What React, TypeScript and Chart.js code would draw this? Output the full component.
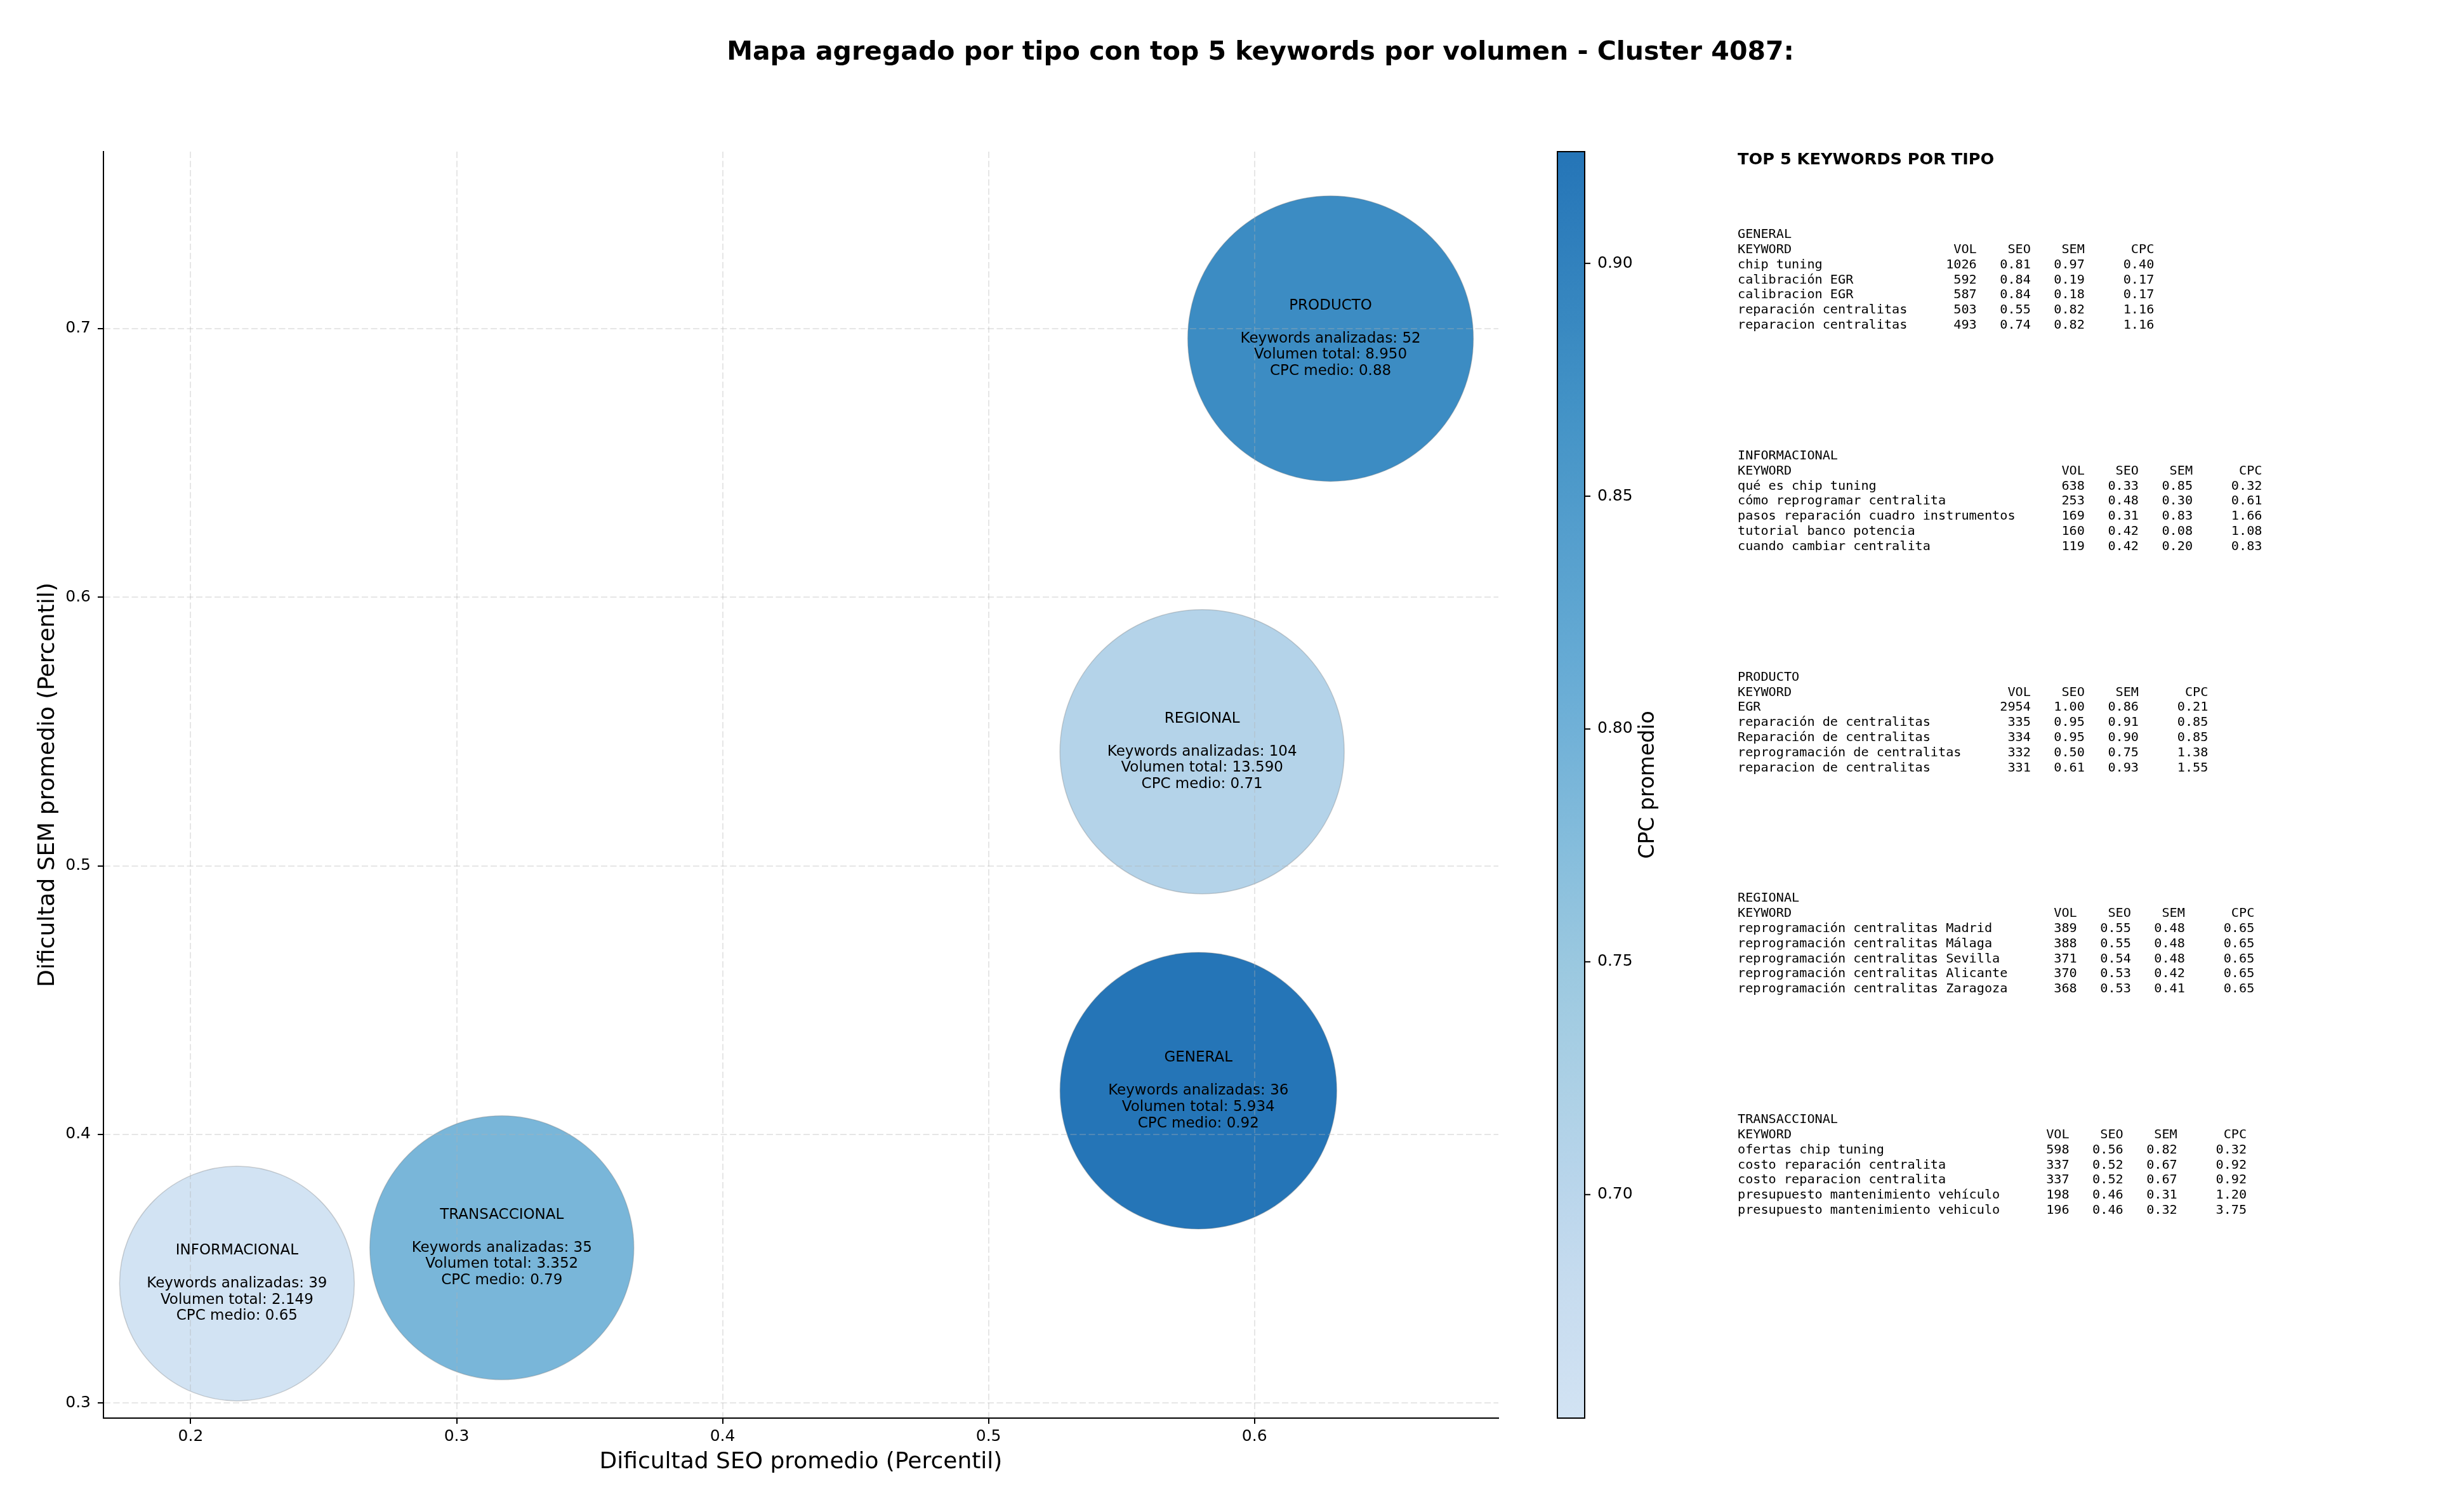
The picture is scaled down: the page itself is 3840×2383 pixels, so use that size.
import React, { useEffect, useRef } from "react";
import { Chart, registerables } from "chart.js";

Chart.register(...registerables);

// ---------------- DATA ----------------
const TYPES = ["GENERAL", "INFORMACIONAL", "PRODUCTO", "REGIONAL", "TRANSACCIONAL"];
const SEO_AVG = [0.5789, 0.2174, 0.6286, 0.5803, 0.317];
const SEM_AVG = [0.4163, 0.3445, 0.6963, 0.5425, 0.3578];
const KW_COUNT = [36, 39, 52, 104, 35];
const VOLUME_TOTAL = [5934, 2149, 8950, 13590, 3352];
const CPC_AVG = [0.924, 0.652, 0.88, 0.71, 0.79];

const X_TICKS = [0.2, 0.3, 0.4, 0.5, 0.6];
const Y_TICKS = [0.3, 0.4, 0.5, 0.6, 0.7];
const CBAR_TICKS = [0.7, 0.75, 0.8, 0.85, 0.9];
const X_RANGE = [0.1672, 0.6917];
const Y_RANGE = [0.2944, 0.7659];

type Row = [string, number, number, number, number];
const TOP_GENERAL: Row[] = [
  ["chip tuning", 1026, 0.81, 0.97, 0.4],
  ["calibración EGR", 592, 0.84, 0.19, 0.17],
  ["calibracion EGR", 587, 0.84, 0.18, 0.17],
  ["reparación centralitas", 503, 0.55, 0.82, 1.16],
  ["reparacion centralitas", 493, 0.74, 0.82, 1.16],
];
const TOP_INFORMACIONAL: Row[] = [
  ["qué es chip tuning", 638, 0.33, 0.85, 0.32],
  ["cómo reprogramar centralita", 253, 0.48, 0.3, 0.61],
  ["pasos reparación cuadro instrumentos", 169, 0.31, 0.83, 1.66],
  ["tutorial banco potencia", 160, 0.42, 0.08, 1.08],
  ["cuando cambiar centralita", 119, 0.42, 0.2, 0.83],
];
const TOP_PRODUCTO: Row[] = [
  ["EGR", 2954, 1.0, 0.86, 0.21],
  ["reparación de centralitas", 335, 0.95, 0.91, 0.85],
  ["Reparación de centralitas", 334, 0.95, 0.9, 0.85],
  ["reprogramación de centralitas", 332, 0.5, 0.75, 1.38],
  ["reparacion de centralitas", 331, 0.61, 0.93, 1.55],
];
const TOP_REGIONAL: Row[] = [
  ["reprogramación centralitas Madrid", 389, 0.55, 0.48, 0.65],
  ["reprogramación centralitas Málaga", 388, 0.55, 0.48, 0.65],
  ["reprogramación centralitas Sevilla", 371, 0.54, 0.48, 0.65],
  ["reprogramación centralitas Alicante", 370, 0.53, 0.42, 0.65],
  ["reprogramación centralitas Zaragoza", 368, 0.53, 0.41, 0.65],
];
const TOP_TRANSACCIONAL: Row[] = [
  ["ofertas chip tuning", 598, 0.56, 0.82, 0.32],
  ["costo reparación centralita", 337, 0.52, 0.67, 0.92],
  ["costo reparacion centralita", 337, 0.52, 0.67, 0.92],
  ["presupuesto mantenimiento vehículo", 198, 0.46, 0.31, 1.2],
  ["presupuesto mantenimiento vehiculo", 196, 0.46, 0.32, 3.75],
];
const TOP_BLOCKS: Row[][] = [TOP_GENERAL, TOP_INFORMACIONAL, TOP_PRODUCTO, TOP_REGIONAL, TOP_TRANSACCIONAL];

const TITLE = "Mapa agregado por tipo con top 5 keywords por volumen - Cluster 4087:";
const X_LABEL = "Dificultad SEO promedio (Percentil)";
const Y_LABEL = "Dificultad SEM promedio (Percentil)";
const CBAR_LABEL = "CPC promedio";
const PANEL_HEADER = "TOP 5 KEYWORDS POR TIPO";

// ---------------- STYLE ----------------
const W = 3840;
const H = 2383;
const AREA = { left: 163, right: 2361, top: 239, bottom: 2235 };
const BUBBLE_RADIUS_PX = [218, 185, 225, 224, 208];
const CBAR_X0 = 2454;
const CBAR_X1 = 2497;
const SANS = "'DejaVu Sans'";
const MONO = "'DejaVu Sans Mono'";

const BLUES = [
  [247, 251, 255], [222, 235, 247], [198, 219, 239], [158, 202, 225], [107, 174, 214],
  [66, 146, 198], [33, 113, 181], [8, 81, 156], [8, 48, 107],
];
function blues(b: number) {
  const p = Math.max(0, Math.min(1, b)) * 8;
  const i = Math.min(7, Math.floor(p));
  const f = p - i;
  const c = BLUES[i].map((v, k) => Math.round(v + (BLUES[i + 1][k] - v) * f));
  return `rgb(${c[0]},${c[1]},${c[2]})`;
}
const CMIN = Math.min(...CPC_AVG);
const CMAX = Math.max(...CPC_AVG);
function cpcColor(v: number) {
  const t = (v - CMIN) / (CMAX - CMIN);
  return blues(0.19 + 0.545 * t);
}

function fmtThousands(n: number) {
  return String(n).replace(/\B(?=(\d{3})+(?!\d))/g, ".");
}

function blockLines(name: string, rows: Row[]) {
  const kw = Math.max(...rows.map((r) => r[0].length)) + 3;
  const lines = [name];
  lines.push("KEYWORD".padEnd(kw) + "VOL".padStart(6) + "SEO".padStart(7) + "SEM".padStart(7) + "CPC".padStart(9));
  for (const r of rows) {
    lines.push(
      r[0].padEnd(kw) +
        String(r[1]).padStart(6) +
        r[2].toFixed(2).padStart(7) +
        r[3].toFixed(2).padStart(7) +
        r[4].toFixed(2).padStart(9)
    );
  }
  return lines;
}

const decorPlugin = {
  id: "decor",
  afterDraw(chart: any) {
    const ctx = chart.ctx as CanvasRenderingContext2D;
    const area = chart.chartArea;
    ctx.save();
    // Title
    ctx.fillStyle = "#000";
    ctx.font = `bold 41px ${SANS}`;
    ctx.textAlign = "center";
    ctx.textBaseline = "middle";
    ctx.fillText(TITLE, 1986, 83);

    // Bubble annotations
    const meta = chart.getDatasetMeta(0);
    ctx.font = `23px ${SANS}`;
    meta.data.forEach((el: any, i: number) => {
      const lines = [
        TYPES[i],
        "",
        `Keywords analizadas: ${KW_COUNT[i]}`,
        `Volumen total: ${fmtThousands(VOLUME_TOTAL[i])}`,
        `CPC medio: ${CPC_AVG[i].toFixed(2)}`,
      ];
      lines.forEach((t, k) => {
        if (t) ctx.fillText(t, el.x, el.y + (k - 2) * 25.8);
      });
    });

    // Colorbar
    const top = area.top;
    const bottom = area.bottom;
    const grad = ctx.createLinearGradient(0, bottom, 0, top);
    for (let s = 0; s <= 20; s++) {
      const v = CMIN + ((CMAX - CMIN) * s) / 20;
      grad.addColorStop(s / 20, cpcColor(v));
    }
    ctx.fillStyle = grad;
    ctx.fillRect(CBAR_X0, top, CBAR_X1 - CBAR_X0, bottom - top);
    ctx.strokeStyle = "#000";
    ctx.lineWidth = 2;
    ctx.strokeRect(CBAR_X0, top, CBAR_X1 - CBAR_X0, bottom - top);
    ctx.fillStyle = "#000";
    ctx.font = `25px ${SANS}`;
    ctx.textAlign = "left";
    ctx.textBaseline = "middle";
    CBAR_TICKS.forEach((v) => {
      const y = bottom - ((v - CMIN) / (CMAX - CMIN)) * (bottom - top);
      ctx.beginPath();
      ctx.moveTo(CBAR_X1, y);
      ctx.lineTo(CBAR_X1 + 9, y);
      ctx.stroke();
      ctx.fillText(v.toFixed(2), CBAR_X1 + 20, y);
    });
    ctx.save();
    ctx.translate(2597, (top + bottom) / 2);
    ctx.rotate(-Math.PI / 2);
    ctx.textAlign = "center";
    ctx.font = `33px ${SANS}`;
    ctx.fillText(CBAR_LABEL, 0, 0);
    ctx.restore();

    // Right text panel
    ctx.textAlign = "left";
    ctx.textBaseline = "middle";
    ctx.font = `bold 25.6px ${SANS}`;
    ctx.fillText(PANEL_HEADER, 2738, 252);
    ctx.font = `20.2px ${MONO}`;
    TOP_BLOCKS.forEach((rows, b) => {
      const lines = blockLines(TYPES[b], rows);
      const y0 = 370 + b * 348.75;
      lines.forEach((t, k) => ctx.fillText(t, 2738, y0 + k * 23.8));
    });
    ctx.restore();
  },
};

export default function App() {
  const ref = useRef<HTMLCanvasElement>(null);
  useEffect(() => {
    document.body.style.margin = "0";
    Chart.defaults.font.family = SANS;
    const canvas = ref.current!;
    const gridCommon = {
      z: 1,
      color: "rgba(176,176,176,0.32)",
      lineWidth: 2,
      drawTicks: true,
      tickLength: 9,
      tickColor: "#000",
      tickWidth: 2,
      tickBorderDash: [],
    };
    const borderCommon = { display: true, color: "#000", width: 2, z: 1, dash: [10, 4.5] };
    const chart = new Chart(canvas, {
      type: "bubble",
      data: {
        datasets: [
          {
            data: TYPES.map((_, i) => ({ x: SEO_AVG[i], y: SEM_AVG[i] })),
            backgroundColor: TYPES.map((_, i) => cpcColor(CPC_AVG[i])),
            borderColor: "rgba(110,110,110,0.3)",
            borderWidth: 1.5,
            radius: (c: any) => BUBBLE_RADIUS_PX[c.dataIndex],
          } as any,
        ],
      },
      options: {
        responsive: false,
        animation: false,
        devicePixelRatio: 1,
        events: [],
        layout: {
          autoPadding: false,
          padding: { left: 0, top: AREA.top, right: W - AREA.right, bottom: 0 },
        },
        plugins: { legend: { display: false }, tooltip: { enabled: false }, title: { display: false } },
        scales: {
          x: {
            type: "linear",
            min: X_RANGE[0],
            max: X_RANGE[1],
            afterBuildTicks: (s: any) => {
              s.ticks = X_TICKS.map((v) => ({ value: v }));
            },
            afterFit: (s: any) => {
              s.height = H - AREA.bottom;
            },
            grid: gridCommon as any,
            border: borderCommon as any,
            ticks: {
              color: "#000",
              font: { size: 25, family: SANS },
              padding: 5,
              maxRotation: 0,
              callback: (v: any) => Number(v).toFixed(1),
            },
            title: {
              display: true,
              text: X_LABEL,
              color: "#000",
              font: { size: 36, family: SANS },
              padding: { top: 0, bottom: 57 },
            },
          },
          y: {
            type: "linear",
            min: Y_RANGE[0],
            max: Y_RANGE[1],
            afterBuildTicks: (s: any) => {
              s.ticks = Y_TICKS.map((v) => ({ value: v }));
            },
            afterFit: (s: any) => {
              s.width = AREA.left;
            },
            grid: gridCommon as any,
            border: borderCommon as any,
            ticks: {
              color: "#000",
              font: { size: 25, family: SANS },
              padding: 11,
              callback: (v: any) => Number(v).toFixed(1),
            },
            title: {
              display: true,
              text: Y_LABEL,
              color: "#000",
              font: { size: 36, family: SANS },
              padding: { top: 54, bottom: 0 },
            },
          },
        },
      },
      plugins: [decorPlugin],
    } as any);
    return () => chart.destroy();
  }, []);
  return (
    <div style={{ width: W, height: H, overflow: "hidden", background: "#fff" }}>
      <canvas ref={ref} width={W} height={H} style={{ display: "block", width: W, height: H }} />
    </div>
  );
}
